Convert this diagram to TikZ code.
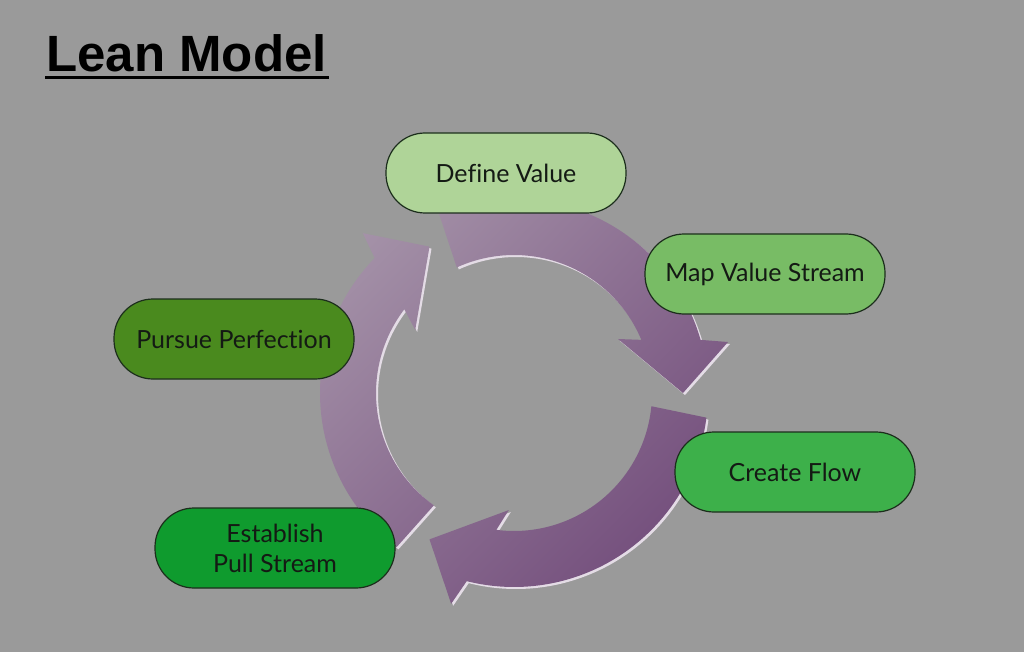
\documentclass[tikz,border=0pt]{standalone}
\usepackage{fontspec}
\usetikzlibrary{shadings}
\setmainfont[Ligatures={NoCommon,NoRare,NoDiscretionary}]{Lato}
\newfontfamily\titlefont{Liberation Sans}
\definecolor{bg}{HTML}{9A9A9A}
\definecolor{arrowlight}{HTML}{AC9DAF}
\definecolor{arrowmid}{HTML}{8A6C90}
\definecolor{arrowdark}{HTML}{683F72}
\definecolor{arrowedge}{HTML}{E4DCE6}
\definecolor{nodeborder}{HTML}{1C2E1C}
\definecolor{textc}{HTML}{141A14}
\definecolor{cdefine}{HTML}{AFD498}
\definecolor{cmap}{HTML}{78BC65}
\definecolor{ccreate}{HTML}{3DB04A}
\definecolor{cpull}{HTML}{0F9B2E}
\definecolor{cpursue}{HTML}{4A8A1E}
\newcommand\arrowshape[1]{%
 (112.7+#1:194) arc[start angle=112.7+#1, end angle=15.9+#1, radius=194]
 -- (13.4+#1:220) -- (#1:169) -- (27.44+#1:117.2) -- (22.65+#1:138)
 arc[start angle=22.65+#1, end angle=114.5+#1, radius=138] -- cycle }
\begin{document}
\begin{tikzpicture}[x=1pt,y=1pt,
  pill/.style={draw=nodeborder, line width=1.2pt, rounded corners=39pt,
    minimum width=240pt, minimum height=80pt, inner sep=0pt, text=textc,
    font=\fontsize{25}{30}\selectfont, align=center}]
\useasboundingbox (0,0) rectangle (1024,-652);
\fill[bg] (0,0) rectangle (1024,-652);
\begin{scope}[shift={(514,-393)}]
  \fill[arrowedge, shift={(2,-2)}] \arrowshape{0} \arrowshape{120} \arrowshape{240};
  \begin{scope}
    \clip \arrowshape{0} \arrowshape{120} \arrowshape{240};
    \shade[upper left=arrowlight, lower right=arrowdark, upper right=arrowmid, lower left=arrowmid]
      (-200,-225) rectangle (225,210);
  \end{scope}
\end{scope}
\node[pill, fill=cdefine] (define) at (506,-173) {Define Value};
\node[pill, fill=cmap] (map) at (765,-274) {Map Value Stream};
\node[pill, fill=cpursue] (pursue) at (234,-339) {Pursue Perfection};
\node[pill, fill=ccreate] (create) at (795,-472) {Create Flow};
\node[pill, fill=cpull] (pull) at (275,-548) {Establish\\Pull Stream};
\node[anchor=base west, inner sep=0pt, font=\titlefont\bfseries\fontsize{51}{60}\selectfont] (title) at (46,-72) {Lean Model};
\draw[line width=3pt] ([shift={(-1,-5.5)}]title.base west) -- ([shift={(2,-5.5)}]title.base east);
\end{tikzpicture}
\end{document}
